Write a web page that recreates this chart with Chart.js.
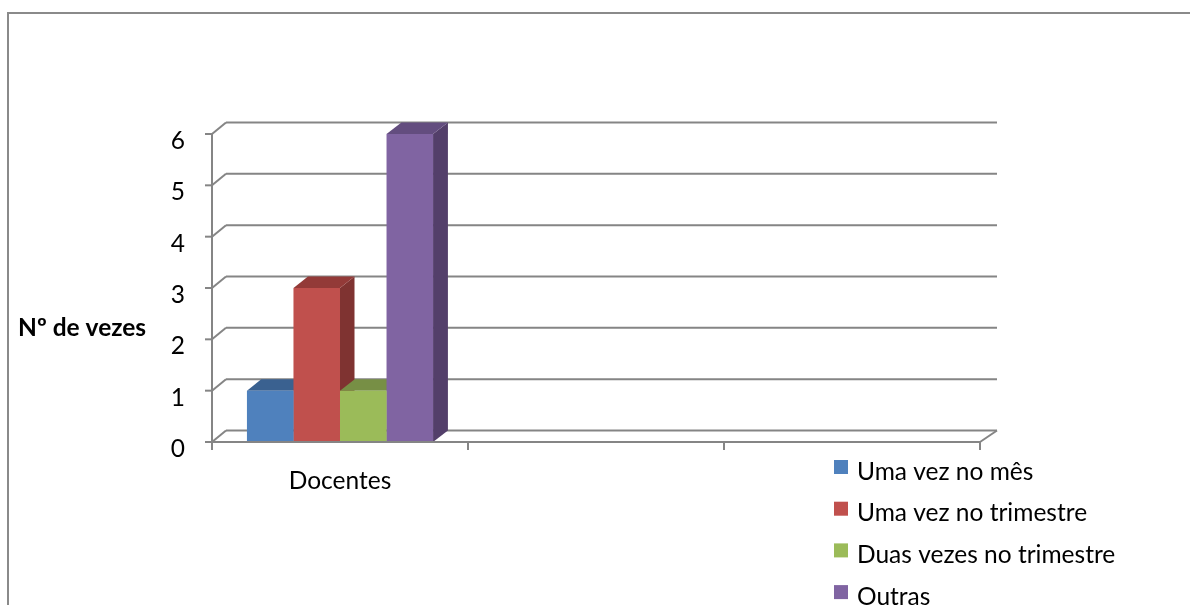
<!DOCTYPE html>
<html>
<head>
<meta charset="utf-8">
<script src="https://cdn.jsdelivr.net/npm/chart.js@4.4.1/dist/chart.umd.min.js"></script>
<style>
  html, body { margin: 0; padding: 0; background: #fff; overflow: hidden; }
  #frame {
    position: absolute; left: 7px; top: 12px; width: 1250px; height: 650px;
    border-top: 2px solid #8a8a8a; border-left: 2px solid #8a8a8a;
  }
  #wrap { position: absolute; left: 0; top: 0; width: 1190px; height: 605px; }
</style>
</head>
<body>
<div id="frame"></div>
<div id="wrap"><canvas id="chart"></canvas></div>
<script>
  // ---------------------------
  // Data
  // ---------------------------

  const categories = ["Docentes", "", ""];
  const seriesNames = ["Uma vez no mês", "Uma vez no trimestre", "Duas vezes no trimestre", "Outras"];
  const umaVezNoMes = [1, null, null];
  const umaVezNoTrimestre = [3, null, null];
  const duasVezesNoTrimestre = [1, null, null];
  const outras = [6, null, null];
  const yMin = 0;
  const yMax = 6;
  const yStep = 1;
  const yTitle = "Nº de vezes";

  // ---------------------------
  // Style
  // ---------------------------

  const FONT = "Lato, 'DejaVu Sans', sans-serif";
  const FONT_SIZE = 24.5;
  const GRID = "#858585";
  const frontColors = ["#4F81BD", "#C0504D", "#9BBB59", "#8064A2"];
  const topColors = ["#3A6190", "#933A38", "#778F45", "#634D7F"];
  const sideColors = ["#2E4D73", "#7F3331", "#5E7530", "#533F6A"];

  const DEPTH_L = 14;
  const DEPTH_R = 17;
  const DEPTH_Y = -11.5;

  function depthX(area, x) {
    return DEPTH_L + (DEPTH_R - DEPTH_L) * (x - area.left) / (area.right - area.left);
  }

  function line(ctx, x1, y1, x2, y2) {
    ctx.beginPath();
    ctx.moveTo(x1, y1);
    ctx.lineTo(x2, y2);
    ctx.stroke();
  }

  function poly(ctx, pts, fill) {
    ctx.beginPath();
    ctx.moveTo(pts[0][0], pts[0][1]);
    for (let i = 1; i < pts.length; i++) ctx.lineTo(pts[i][0], pts[i][1]);
    ctx.closePath();
    ctx.fillStyle = fill;
    ctx.fill();
  }

  // ---------------------------
  // 3D walls, bar sides, legend
  // ---------------------------

  const walls3d = {
    id: "walls3d",
    beforeDatasetsDraw(chart) {
      const { ctx, chartArea: a, scales: { y } } = chart;
      const dl = depthX(a, a.left);
      const dr = depthX(a, a.right);
      ctx.save();
      ctx.strokeStyle = GRID;
      ctx.lineWidth = 2;

      y.ticks.forEach(t => {
        const py = y.getPixelForValue(t.value);
        line(ctx, a.left, py, a.left + dl, py + DEPTH_Y);
        line(ctx, a.left + dl, py + DEPTH_Y, a.right + dr, py + DEPTH_Y);
      });
      line(ctx, a.right, a.bottom, a.right + dr, a.bottom + DEPTH_Y);

      chart.data.datasets.forEach((ds, i) => {
        const meta = chart.getDatasetMeta(i);
        meta.data.forEach((bar, j) => {
          if (ds.data[j] == null) return;
          const p = bar.getProps(["x", "y", "base", "width"], true);
          const l = p.x - p.width / 2;
          const r = p.x + p.width / 2;
          const d = depthX(a, r);
          poly(ctx, [[r, p.y], [r + d, p.y + DEPTH_Y], [r + d, p.base + DEPTH_Y], [r, p.base]], sideColors[i]);
          poly(ctx, [[l, p.y], [l + d, p.y + DEPTH_Y], [r + d, p.y + DEPTH_Y], [r, p.y]], topColors[i]);
        });
      });
      ctx.restore();
    },
    afterDatasetsDraw(chart) {
      const { ctx, chartArea: a, scales: { x, y } } = chart;
      ctx.save();
      ctx.strokeStyle = GRID;
      ctx.lineWidth = 2;
      line(ctx, a.left, a.top, a.left, a.bottom + 8);
      line(ctx, a.left, a.bottom, a.right, a.bottom);
      y.ticks.forEach(t => {
        const py = y.getPixelForValue(t.value);
        line(ctx, a.left - 7, py, a.left, py);
      });
      const n = x.ticks.length;
      const step = (a.right - a.left) / n;
      for (let i = 1; i <= n; i++) {
        const px = a.left + i * step;
        line(ctx, px, a.bottom, px, a.bottom + 8);
      }
      ctx.restore();
    },
    afterDraw(chart) {
      const { ctx } = chart;
      ctx.save();
      ctx.fillStyle = "#000";
      ctx.textBaseline = "alphabetic";
      ctx.textAlign = "left";
      ctx.font = "bold " + FONT_SIZE + "px " + FONT;
      ctx.fillText(yTitle, 18, 336);

      ctx.font = FONT_SIZE + "px " + FONT;
      chart.data.datasets.forEach((ds, i) => {
        const rowY = 460 + i * 41.7;
        ctx.fillStyle = ds.backgroundColor;
        ctx.fillRect(834, rowY, 14, 14);
        ctx.fillStyle = "#000";
        ctx.fillText(ds.label, 857, rowY + 19.5);
      });
      ctx.restore();
    }
  };

  // ---------------------------
  // Chart
  // ---------------------------

  const seriesData = [umaVezNoMes, umaVezNoTrimestre, duasVezesNoTrimestre, outras];

  new Chart(document.getElementById("chart"), {
    type: "bar",
    data: {
      labels: categories,
      datasets: seriesData.map((d, i) => ({
        label: seriesNames[i],
        data: d,
        backgroundColor: frontColors[i],
        borderWidth: 0,
        categoryPercentage: 0.727,
        barPercentage: 1
      }))
    },
    options: {
      responsive: true,
      maintainAspectRatio: false,
      animation: false,
      layout: { padding: { top: 134, right: 210, left: 0, bottom: 0 } },
      plugins: {
        legend: { display: false },
        tooltip: { enabled: false }
      },
      scales: {
        x: {
          grid: { display: false, drawTicks: false },
          border: { display: false },
          ticks: {
            color: "#000",
            font: { family: FONT, size: FONT_SIZE },
            padding: 24,
            maxRotation: 0,
            autoSkip: false
          },
          afterFit(s) { s.height = 163; }
        },
        y: {
          min: yMin,
          max: yMax,
          grid: { display: false, drawTicks: false },
          border: { display: false },
          ticks: {
            stepSize: yStep,
            color: "#000",
            font: { family: FONT, size: FONT_SIZE },
            padding: 27,
            labelOffset: 7
          },
          afterFit(s) { s.width = 212; }
        }
      }
    },
    plugins: [walls3d]
  });
</script>
</body>
</html>
